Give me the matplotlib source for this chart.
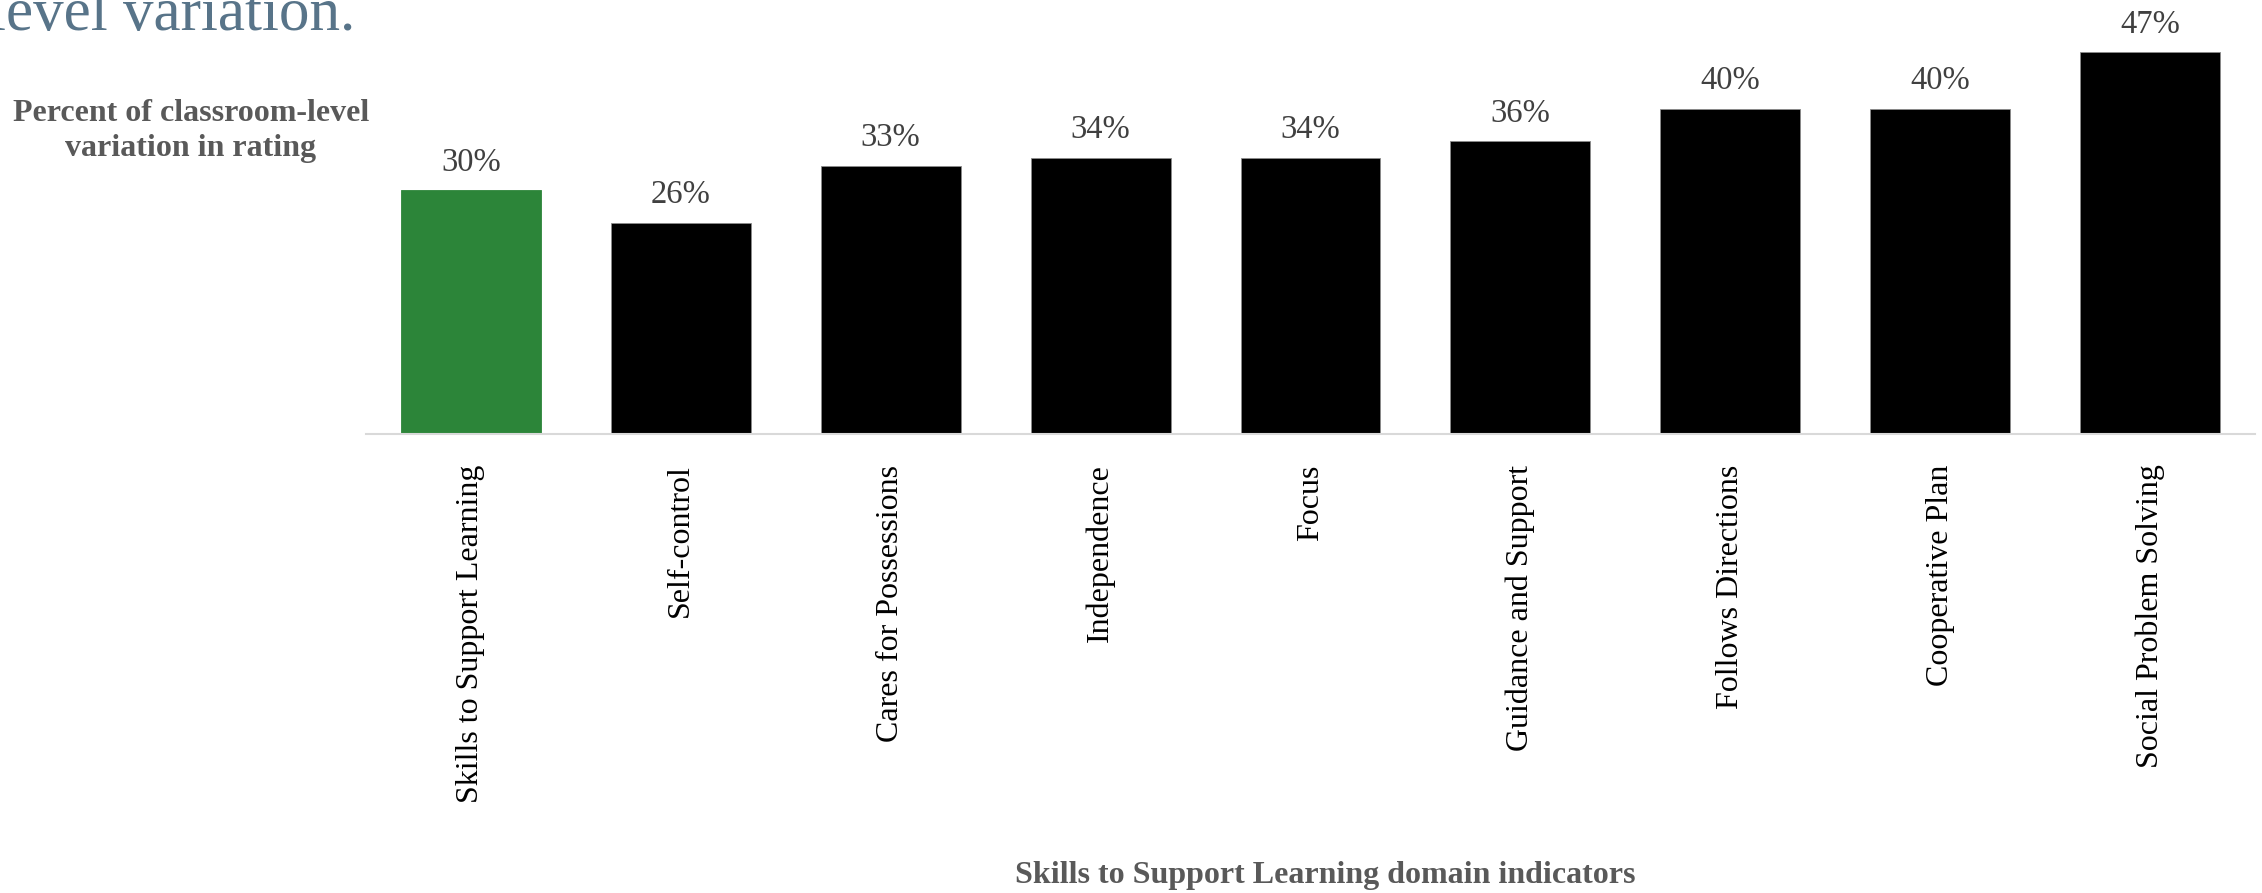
import numpy as np
import matplotlib.pyplot as plt

# data
indicators = ['Skills to Support Learning', 'Self-control', 'Cares for Possessions',
              'Independence', 'Focus', 'Guidance and Support', 'Follows Directions',
              'Cooperative Plan', 'Social Problem Solving']
pct = [30, 26, 33, 34, 34, 36, 40, 40, 47]
bar_colors = ['#2c8539'] + ['#000000'] * 8

plt.rcParams['font.family'] = ['Liberation Serif', 'DejaVu Serif']

fig = plt.figure(figsize=(22.62, 8.93), dpi=100)
ax = fig.add_axes([366 / 2262, 1 - 434 / 893, 1889 / 2262, 434 / 893])

x = np.arange(len(indicators))
bars = ax.bar(x, pct, width=0.667, color=bar_colors, edgecolor='#8c8c8c', linewidth=0.6)
bars[0].set_edgecolor('#2c8539')

for xi, v in zip(x, pct):
    ax.annotate(f'{v}%', (xi, v), xytext=(0, 9), textcoords='offset points',
                ha='center', va='bottom', fontsize=23.5, color='#404040', clip_on=False)

ax.set_xlim(-0.5, len(indicators) - 0.5)
ax.set_ylim(0, 53.4)
ax.set_xticks(x)
ax.set_xticklabels(indicators, rotation=90, fontsize=23, color='#000000', va='top')
ax.tick_params(axis='x', length=0, pad=22)
ax.set_yticks([])
for s in ['top', 'right', 'left']:
    ax.spines[s].set_visible(False)
ax.spines['bottom'].set_color('#d9d9d9')
ax.spines['bottom'].set_linewidth(1.5)

# axis titles
fig.text(191 / 2262, 1 - 131 / 893, 'Percent of classroom-level\nvariation in rating',
         ha='center', va='center', fontsize=23, fontweight='bold', color='#595959',
         linespacing=1.3)
fig.text(1325 / 2262, 1 - 876 / 893, 'Skills to Support Learning domain indicators',
         ha='center', va='center', fontsize=23, fontweight='bold', color='#595959')

# clipped title from the page
fig.text(355 / 2262, 1 - 30 / 893, 'level variation.', ha='right', va='baseline',
         fontsize=44, color='#587489')

fig.savefig('out.png', dpi=100)
